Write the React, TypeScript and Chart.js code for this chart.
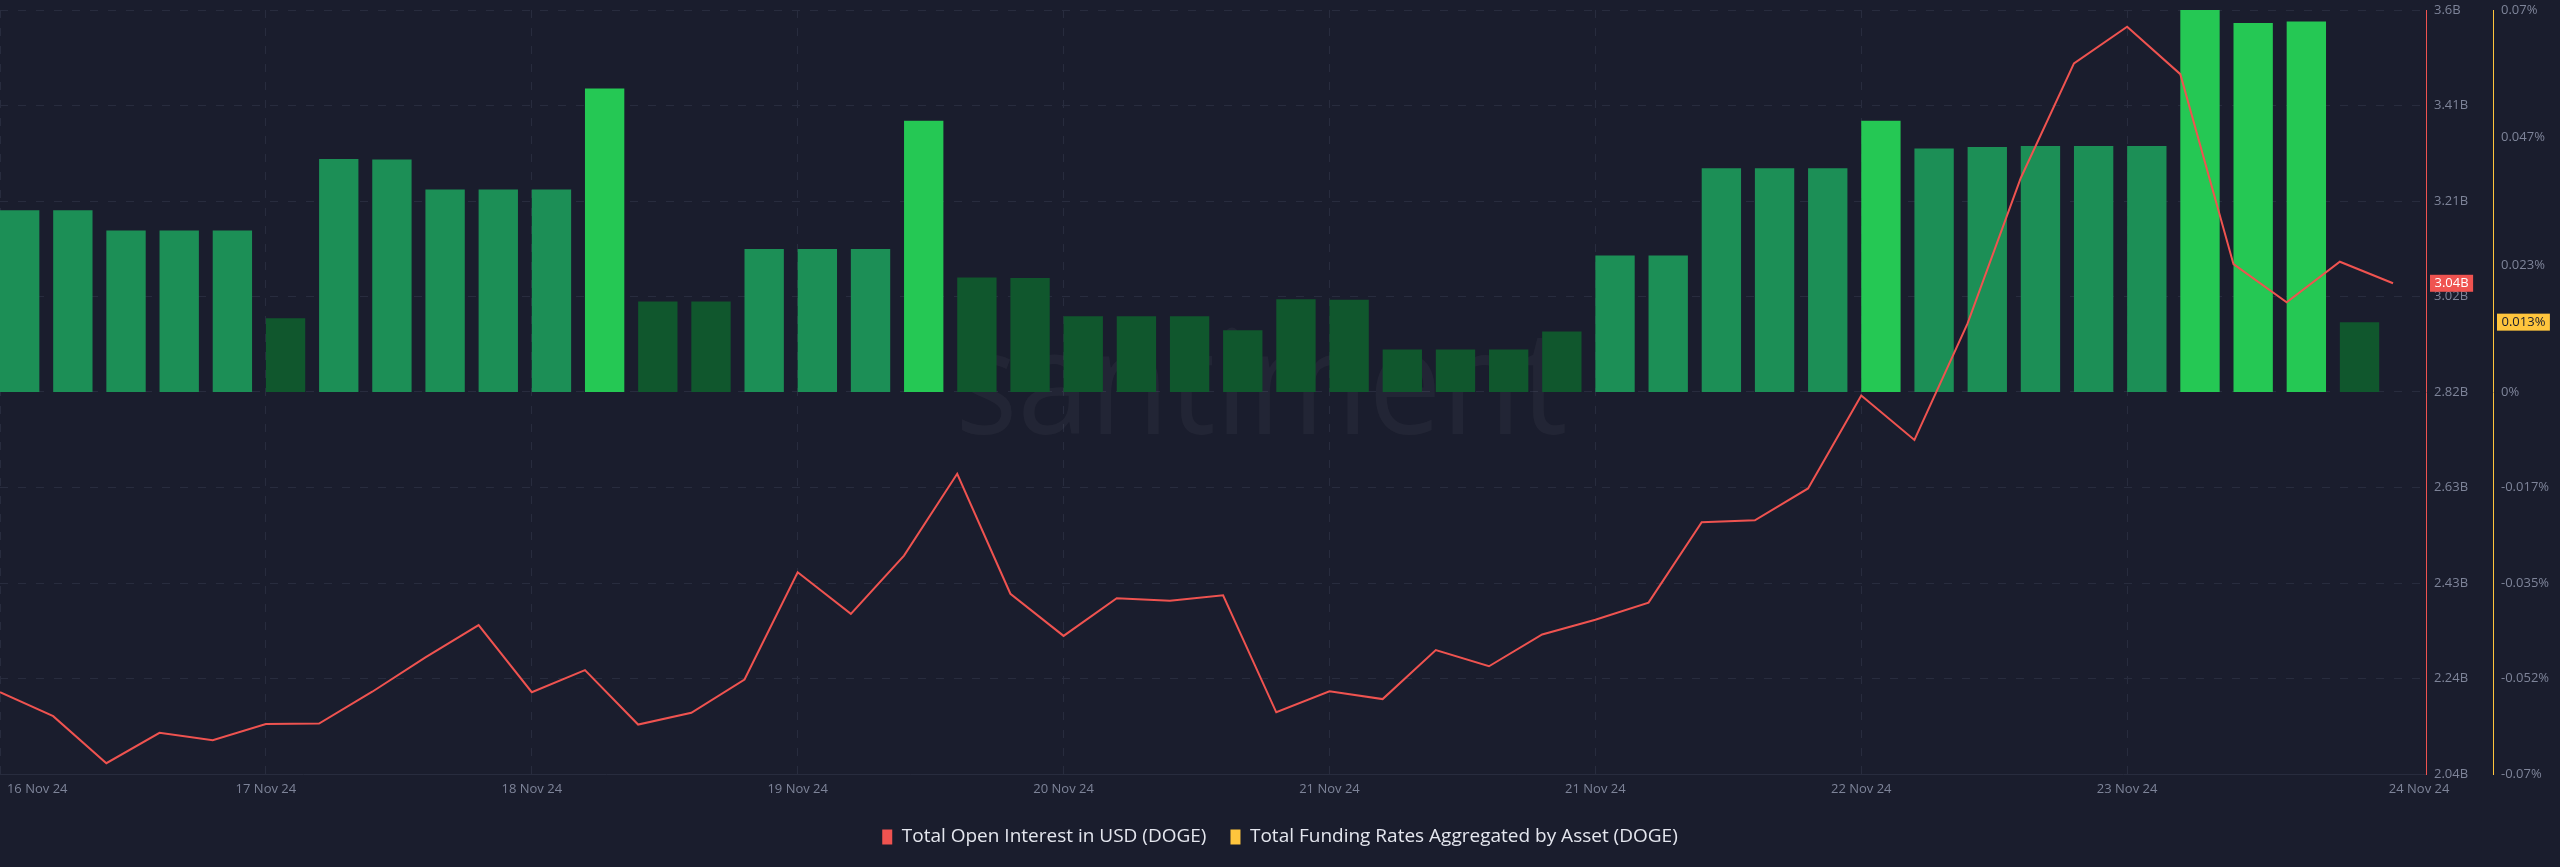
import React, { useEffect, useRef } from 'react';
import { Chart, registerables } from 'chart.js';

Chart.register(...registerables);

// ---------- data ----------
const OI_LABEL = 'Total Open Interest in USD (DOGE)';
const FR_LABEL = 'Total Funding Rates Aggregated by Asset (DOGE)';

// Total open interest, billions USD
const openInterest = [
  2.207, 2.158, 2.062, 2.124, 2.109, 2.142, 2.143, 2.208, 2.278, 2.344,
  2.207, 2.252, 2.141, 2.165, 2.233, 2.452, 2.367, 2.486, 2.653, 2.408,
  2.322, 2.399, 2.394, 2.405, 2.166, 2.209, 2.193, 2.293, 2.260, 2.325,
  2.355, 2.390, 2.554, 2.558, 2.623, 2.813, 2.722, 2.960, 3.257, 3.491,
  3.566, 3.469, 3.081, 3.003, 3.086, 3.042,
];

// Total funding rates, percent
const fundingRates = [
  0.0333, 0.0333, 0.0296, 0.0296, 0.0296, 0.0135, 0.0427, 0.0426, 0.0371, 0.0371,
  0.0371, 0.0556, 0.0166, 0.0166, 0.0262, 0.0262, 0.0262, 0.0497, 0.0210, 0.0209,
  0.0139, 0.0139, 0.0139, 0.0113, 0.0170, 0.0169, 0.0078, 0.0078, 0.0078, 0.0111,
  0.0250, 0.0250, 0.0410, 0.0410, 0.0410, 0.0497, 0.0446, 0.0449, 0.0451, 0.0451,
  0.0451, 0.0700, 0.0676, 0.0679, 0.0128,
];

const xTickLabels = [
  '16 Nov 24', '17 Nov 24', '18 Nov 24', '19 Nov 24', '20 Nov 24',
  '21 Nov 24', '21 Nov 24', '22 Nov 24', '23 Nov 24', '24 Nov 24',
];

const oiTickLabels = ['2.04B', '2.24B', '2.43B', '2.63B', '2.82B', '3.02B', '3.21B', '3.41B', '3.6B'];

const frTickValues = [-0.07, -0.0525, -0.035, -0.0175, 0, 0.0233, 0.0467, 0.07];
const frTickLabels = ['-0.07%', '-0.052%', '-0.035%', '-0.017%', '0%', '0.023%', '0.047%', '0.07%'];

// funding-rate intensity levels for bar shading
const frLevels = [0.0233, 0.0467];

// ---------- styles ----------
const BG = '#1a1d2d';
const RED = '#ef5350';
const YELLOW = '#ffc53d';
const GRID = '#282c3e';
const TICK = '#7e8499';
const LEGEND_TEXT = '#e4e6ee';
const BAR_SHADES = ['#10572d', '#1c8f56', '#25c854'];
const FONT = '"Open Sans", sans-serif';
const CLEAR = 'rgba(0,0,0,0)';

const OI_MIN = 2.04;
const OI_MAX = 3.6;
const FR_MIN = -0.07;
const FR_MAX = 0.07;
const X_MAX = 45.62;
const BAR_HALF = 0.37;
const X_GRID_AT = [0, 5, 10, 15, 20, 25, 30, 35, 40];
const X_LABEL_AT = [0.7, 5, 10, 15, 20, 25, 30, 35, 40, 45.49];

const shadeFor = (v: number) => BAR_SHADES[frLevels.filter((l) => v >= l).length];

const watermarkPlugin = {
  id: 'watermark',
  beforeDatasetsDraw(chart: any) {
    const { ctx, chartArea } = chart;
    ctx.save();
    ctx.font = `400 145px ${FONT}`;
    ctx.fillStyle = 'rgba(255,255,255,0.04)';
    ctx.textAlign = 'left';
    ctx.textBaseline = 'alphabetic';
    const text = 'santiment';
    const w = ctx.measureText(text).width;
    const target = 612;
    const cx = chartArea.left + chartArea.width * 0.52;
    const baseY = chartArea.top + chartArea.height * 0.555;
    ctx.translate(cx - target / 2, baseY);
    ctx.scale(target / w, 1);
    ctx.fillText(text, 0, 0);
    ctx.restore();
  },
};

const badgePlugin = {
  id: 'lastValueBadges',
  afterDraw(chart: any) {
    const { ctx } = chart;
    const draw = (scaleId: string, value: number, text: string, bg: string, fg: string) => {
      const s = chart.scales[scaleId];
      const y = s.getPixelForValue(value);
      ctx.save();
      ctx.font = `13px ${FONT}`;
      const w = ctx.measureText(text).width + 9;
      const h = 17;
      const x = s.left + 4;
      ctx.fillStyle = bg;
      ctx.fillRect(x, y - h / 2, w, h);
      ctx.fillStyle = fg;
      ctx.textAlign = 'left';
      ctx.textBaseline = 'middle';
      ctx.fillText(text, x + 4.5, y + 0.5);
      ctx.restore();
    };
    const lastOi = openInterest[openInterest.length - 1];
    const lastFr = fundingRates[fundingRates.length - 1];
    draw('yOI', lastOi, lastOi.toFixed(2) + 'B', RED, '#ffffff');
    draw('yFR', lastFr, lastFr.toFixed(3) + '%', YELLOW, '#1a1d2d');
  },
};

export default function App() {
  const canvasRef = useRef<HTMLCanvasElement | null>(null);

  useEffect(() => {
    const canvas = canvasRef.current;
    if (!canvas) return;
    Chart.defaults.font.family = FONT;

    const tickFont = { size: 13, family: FONT };

    const chart = new Chart(canvas, {
      data: {
        datasets: [
          {
            type: 'line',
            label: OI_LABEL,
            data: openInterest.map((v, i) => ({ x: i, y: v })),
            xAxisID: 'x',
            yAxisID: 'yOI',
            borderColor: RED,
            backgroundColor: RED,
            borderWidth: 2,
            pointRadius: 0,
            tension: 0,
            fill: false,
          } as any,
          {
            type: 'bar',
            label: FR_LABEL,
            data: fundingRates.map((v, i) => ({ x: i, y: v })),
            xAxisID: 'xBar',
            yAxisID: 'yFR',
            backgroundColor: fundingRates.map(shadeFor),
            borderWidth: 0,
            grouped: false,
            barPercentage: 0.74,
            categoryPercentage: 1,
          } as any,
        ],
      },
      options: {
        responsive: false,
        animation: false,
        devicePixelRatio: 1,
        events: [],
        layout: { padding: { left: 0, right: 0, top: 10, bottom: 10.5 } },
        plugins: {
          tooltip: { enabled: false },
          legend: {
            display: true,
            position: 'bottom',
            labels: {
              color: LEGEND_TEXT,
              font: { size: 19, family: FONT },
              boxWidth: 10,
              boxHeight: 15,
              padding: 24,
              generateLabels: (ch: any) =>
                ch.data.datasets.map((ds: any, i: number) => ({
                  text: ds.label,
                  fillStyle: [RED, YELLOW][i],
                  strokeStyle: [RED, YELLOW][i],
                  lineWidth: 0,
                  hidden: false,
                  datasetIndex: i,
                  fontColor: LEGEND_TEXT,
                })),
            },
          },
        },
        scales: {
          x: {
            type: 'linear',
            position: 'bottom',
            min: 0,
            max: X_MAX,
            offset: false,
            afterBuildTicks: (s: any) => {
              const vals = Array.from(new Set([...X_GRID_AT, ...X_LABEL_AT])).sort((a, b) => a - b);
              s.ticks = vals.map((v) => ({ value: v }));
            },
            ticks: {
              autoSkip: false,
              maxRotation: 0,
              color: TICK,
              font: tickFont,
              padding: 0,
              callback: (v: any) => {
                const k = X_LABEL_AT.indexOf(Number(v));
                return k >= 0 ? xTickLabels[k] : '';
              },
            },
            grid: {
              drawTicks: true,
              tickLength: 7,
              tickColor: CLEAR,
              lineWidth: 1,
              color: (c: any) => (c.tick && X_GRID_AT.includes(c.tick.value) ? GRID : CLEAR),
            },
            border: { display: true, color: GRID, width: 1, dash: [8, 10] },
            afterFit: (s: any) => {
              s.height = 29.5;
            },
          },
          xBar: {
            type: 'linear',
            display: false,
            offset: false,
            grid: { offset: false },
            min: -BAR_HALF,
            max: X_MAX - BAR_HALF,
            afterBuildTicks: (s: any) => {
              s.ticks = [];
            },
          },
          yOI: {
            type: 'linear',
            position: 'right',
            weight: 0,
            min: OI_MIN,
            max: OI_MAX,
            afterBuildTicks: (s: any) => {
              const n = oiTickLabels.length - 1;
              s.ticks = oiTickLabels.map((_, i) => ({ value: OI_MIN + (i * (OI_MAX - OI_MIN)) / n }));
            },
            ticks: {
              color: TICK,
              font: tickFont,
              padding: 0,
              callback: (_v: any, i: number) => oiTickLabels[i],
            },
            grid: { drawTicks: true, tickLength: 8, tickColor: CLEAR, color: GRID, lineWidth: 1 },
            border: { display: true, color: RED, width: 1, dash: [8, 10] },
            afterFit: (s: any) => {
              s.width = 67;
            },
          },
          yFR: {
            type: 'linear',
            position: 'right',
            weight: 1,
            min: FR_MIN,
            max: FR_MAX,
            afterBuildTicks: (s: any) => {
              s.ticks = frTickValues.map((v) => ({ value: v }));
            },
            ticks: {
              color: TICK,
              font: tickFont,
              padding: 0,
              callback: (_v: any, i: number) => frTickLabels[i],
            },
            grid: { display: false, drawOnChartArea: false, drawTicks: true, tickLength: 8, tickColor: CLEAR },
            border: { display: true, color: YELLOW, width: 1 },
            afterFit: (s: any) => {
              s.width = 67;
            },
          },
        },
      } as any,
      plugins: [watermarkPlugin, badgePlugin],
    });

    return () => chart.destroy();
  }, []);

  return (
    <div
      style={{
        position: 'fixed',
        left: 0,
        top: 0,
        width: 2560,
        height: 867,
        background: BG,
        overflow: 'hidden',
      }}
    >
      <canvas ref={canvasRef} width={2560} height={867} style={{ display: 'block', width: 2560, height: 867 }} />
    </div>
  );
}
